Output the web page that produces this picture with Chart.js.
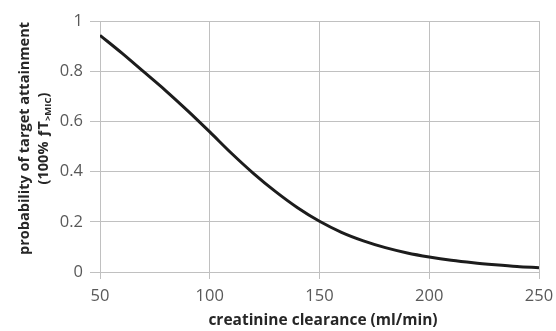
<!DOCTYPE html>
<html><head><meta charset="utf-8">
<script src="https://cdn.jsdelivr.net/npm/chart.js@4/dist/chart.umd.min.js"></script>
<style>html,body{margin:0;padding:0;background:#fff}#wrap{width:556px;height:331px}</style>
</head><body><div id="wrap"><canvas id="c" width="556" height="331"></canvas></div>
<script>
const creatinineClearance = [50,60,70,80,90,100,110,120,130,140,150,160,170,180,190,200,210,220,230,240,250];
const probability = [0.943,0.872,0.797,0.722,0.642,0.558,0.472,0.392,0.32,0.256,0.202,0.158,0.124,0.097,0.076,0.06,0.047,0.037,0.029,0.022,0.017];
const xTicks = [50,100,150,200,250];
const yTicks = [0,0.2,0.4,0.6,0.8,1];
const xTitle = 'creatinine clearance (ml/min)';
const yTitleLine1 = 'probability of target attainment';
const yTitleLine2 = ['(100% ', 'ƒT', '>MIC', ')'];

const FONT = 'Open Sans';
const titlePlugin = {
  id: 'titles',
  afterDraw(chart) {
    const ctx = chart.ctx;
    const area = chart.chartArea;
    ctx.save();
    ctx.fillStyle = '#262626';
    ctx.font = `bold 15.5px "${FONT}"`;
    ctx.textAlign = 'center';
    ctx.textBaseline = 'middle';
    ctx.fillText(xTitle, 323, 321);
    const cy = (area.top + area.bottom) / 2;
    ctx.translate(25, cy - 8);
    ctx.rotate(-Math.PI / 2);
    ctx.font = `bold 14.5px "${FONT}"`;
    ctx.fillText(yTitleLine1, 0, 0);
    ctx.translate(0, 19);
    const bigFont = `bold 14.5px "${FONT}"`;
    const smallFont = `bold 9.5px "${FONT}"`;
    ctx.font = bigFont; const w0 = ctx.measureText(yTitleLine2[0]).width;
    const w1 = ctx.measureText(yTitleLine2[1]).width;
    ctx.font = smallFont; const w2 = ctx.measureText(yTitleLine2[2]).width;
    ctx.font = bigFont; const w3 = ctx.measureText(yTitleLine2[3]).width;
    let x = -(w0 + w1 + w2 + w3) / 2;
    ctx.textAlign = 'left';
    ctx.font = bigFont; ctx.fillText(yTitleLine2[0], x, 0); x += w0;
    ctx.fillText(yTitleLine2[1], x, 0); x += w1;
    ctx.font = smallFont; ctx.fillText(yTitleLine2[2], x, 4); x += w2;
    ctx.font = bigFont; ctx.fillText(yTitleLine2[3], x, 0);
    ctx.restore();
  }
};

new Chart(document.getElementById('c'), {
  type: 'line',
  data: {
    datasets: [{
      data: creatinineClearance.map((v, i) => ({x: v, y: probability[i]})),
      borderColor: '#1c1c1c',
      borderWidth: 3,
      pointRadius: 0,
      cubicInterpolationMode: 'monotone',
      fill: false
    }]
  },
  options: {
    responsive: false,
    animation: false,
    layout: {autoPadding: false, padding: {left: 0, right: 17, top: 21, bottom: 0}},
    plugins: {legend: {display: false}, tooltip: {enabled: false}},
    scales: {
      x: {
        type: 'linear', min: 50, max: 250,
        afterBuildTicks: s => { s.ticks = xTicks.map(v => ({value: v})); },
        afterFit: s => { s.height = 59; s.paddingLeft = 0; s.paddingRight = 0; },
        grid: {color: '#c0c0c0', lineWidth: 1, tickLength: 7, drawTicks: true},
        border: {color: '#c0c0c0'},
        ticks: {color: '#595959', font: {family: FONT, size: 16.5}, padding: 7, maxRotation: 0}
      },
      y: {
        type: 'linear', min: 0, max: 1,
        afterBuildTicks: s => { s.ticks = yTicks.map(v => ({value: v})); },
        afterFit: s => { s.width = 100; s.paddingTop = 0; s.paddingBottom = 0; },
        grid: {color: '#c0c0c0', lineWidth: 1, tickLength: 10, drawTicks: true},
        border: {color: '#c0c0c0'},
        ticks: {color: '#595959', font: {family: FONT, size: 16.5}, padding: 7,
          callback: v => String(Math.round(v * 10) / 10)}
      }
    }
  },
  plugins: [titlePlugin]
});
</script></body></html>
